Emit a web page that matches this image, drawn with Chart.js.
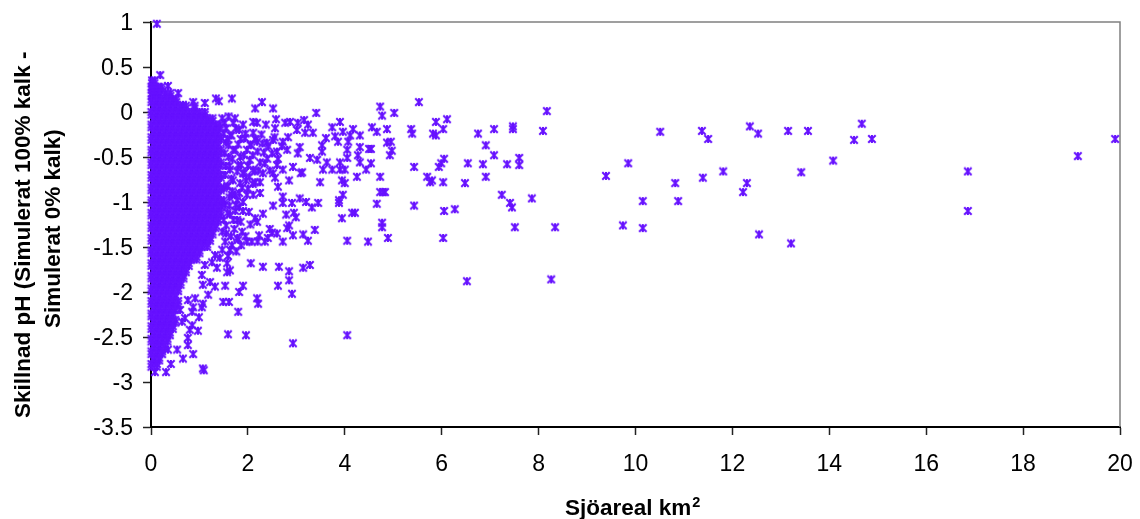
<!DOCTYPE html>
<html><head><meta charset="utf-8">
<script src="https://cdn.jsdelivr.net/npm/chart.js@4/dist/chart.umd.min.js"></script>
<style>html,body{margin:0;padding:0;background:#fff}canvas{display:block}</style>
</head><body><canvas id="c" width="1140" height="519"></canvas>
<script>
const xTitle = 'Sjöareal km';
const xTitleSup = '2';
const yTitle = ['Skillnad pH (Simulerat 100% kalk -', 'Simulerat 0% kalk)'];

// individually readable lakes: area (km2)
const lakeArea = [19.90,19.13,16.86,16.86,14.88,14.67,14.51,14.08,13.42,13.56,13.15,13.21,12.55,12.53,12.36,12.30,12.22,11.81,11.50,11.37,11.39,10.82,10.88,10.51,10.15,10.15,9.85,9.74,9.39,8.34,8.26,8.17,8.09,7.86,7.60,7.60,7.51,7.47,7.47,7.45,7.41,7.35,7.24,7.08,7.08,6.91,6.91,6.85,6.75,6.54,6.52,6.48,6.27,6.11,6.05,6.05,6.03,6.03,6.03,5.99,5.94,5.88,5.88,5.82,5.80,5.76,5.70,5.53,5.43,5.43,5.39,5.37,5.02,4.97,4.95,4.93,4.89,4.87,4.87,4.83,4.79,4.77,4.77,4.77,4.73,4.73,4.73,4.66,4.66,4.56,4.54,4.54,4.50,4.48,4.44,4.31,4.31,4.31,4.27,4.25,4.21,4.17,4.15,4.11,4.07,4.05,4.05,4.05,4.05,4.00,4.00,3.96,3.96,3.94,3.94,3.90,3.90,3.90,3.88,3.88,3.86,3.80,3.74,3.74,3.63,3.61,3.55,3.53,3.53,3.49,3.45,3.43,3.41,3.38,3.34,3.32,3.28,3.28,3.24,3.24,3.20,3.18,3.16,3.14,3.14,3.12,3.09,3.07,3.07,3.03,3.03,3.01,2.99,2.95,2.93,2.93,2.93,2.91,2.91,2.87,2.85,2.85,2.85,2.85,2.83,2.81,2.81,2.79,2.77,2.72,2.72,2.72,2.72,2.72,2.64,2.62,2.62,2.60,2.60,2.58,2.56,2.56,2.52,2.52,2.52,2.52,2.50,2.41,2.39,2.37,2.35,2.31,2.31,2.31,2.29,2.25,2.25,2.23,2.21,2.19,2.19,2.19,2.19,2.15,2.15,2.11,2.11,2.11,2.11,2.06,2.04,2.02,1.98,1.98,1.98,1.96,1.90,1.90,1.90,1.88,1.84,1.84,1.82,1.82,1.80,1.78,1.73,1.69,1.67,1.63,1.63,1.61,1.59,1.57,1.57,1.57,1.53,1.49,1.40,1.34,1.36,1.32,1.11,1.09,1.07,0.97,0.87,0.87,0.80,0.76,0.66,0.66,0.54,0.56,0.41,0.35,0.35,0.31,0.19,0.08,0.12,1.53,1.67,1.80,1.63,1.47,1.86,1.76,1.59,1.42,1.26,1.32,1.11,1.53,1.63,1.55,1.47,1.67,1.75,1.53,1.80,1.96,1.73,1.88,1.60,1.70,1.55,1.64,1.85,1.95,2.05,1.75,1.52,1.60,1.62,1.05,1.22,1.07,0.91,0.76,1.18,1.07,1.05,0.87,0.60,0.99,0.85,0.64,0.85,0.70,0.76,
1.47,1.55,1.66,1.60,1.74,1.82,1.94,2.06,1.86,2.00,2.10,2.20,2.15,2.28,2.33,2.40,2.45,1.50,1.62,1.78,1.90,2.00,2.10,2.22,1.46,1.58,1.70,1.50,1.90,2.05,2.15,1.72,1.95,2.08,2.20,2.35,2.45,2.60,
1.50,1.58,1.70,1.80,1.68,1.52,1.92,1.78,1.66,1.54,1.58,1.68,1.82,1.92,2.03,2.14,2.25,1.50,1.62,1.74,1.85,1.55,1.65,1.78,2.30,2.42,2.50,2.62,2.70,2.55];
// pH difference for the same lakes
const phDiff = [-0.30,-0.49,-0.66,-1.10,-0.30,-0.13,-0.31,-0.54,-0.67,-0.21,-0.21,-1.46,-1.36,-0.24,-0.16,-0.79,-0.89,-0.66,-0.30,-0.21,-0.73,-0.79,-0.99,-0.22,-0.99,-1.29,-0.57,-1.26,-0.71,-1.28,-1.86,0.01,-0.21,-0.96,-0.51,-0.59,-1.28,-0.16,-0.19,-1.06,-1.01,-0.58,-0.92,-0.19,-0.48,-0.37,-0.72,-0.58,-0.24,-0.57,-1.88,-0.79,-1.08,-0.08,-0.52,-1.10,-0.19,-0.78,-1.40,-0.57,-0.61,-0.11,-0.26,-0.24,-0.76,-0.78,-0.72,0.11,-0.61,-1.04,-0.24,-0.19,-0.01,-0.43,-0.33,-0.48,-1.40,-0.19,-0.34,-0.89,-0.89,-0.04,-1.23,-1.28,0.06,-0.72,-0.89,-0.22,-1.02,-0.17,-0.41,-0.57,-0.41,-1.44,-0.64,-0.26,-0.39,-0.56,-0.48,-0.72,-1.12,-0.19,-1.12,-0.26,-0.33,-0.42,-0.51,-1.43,-2.48,-0.64,-0.79,-0.22,-0.92,-0.76,-1.18,-0.11,-0.56,-0.64,-0.98,-1.01,-0.33,-0.27,-0.17,-0.64,-0.56,-0.29,-0.64,-0.37,-0.44,-0.78,-1.01,-0.53,-0.01,-1.31,-0.23,-1.06,-0.51,-1.70,-0.14,-1.43,-1.00,-0.23,-0.09,-1.36,-1.73,-0.67,-0.68,-0.39,-0.96,-0.12,-0.46,-0.20,-1.17,-1.12,-0.61,-1.37,-2.57,-1.01,-2.02,-0.11,-0.76,-1.26,-1.77,-1.87,-0.28,-0.42,-1.29,-1.14,-0.12,-0.33,-0.64,-0.94,-1.01,-1.44,-1.72,-0.83,-1.93,-0.44,-0.59,-0.08,-0.18,-0.73,0.04,-0.31,-0.68,-1.04,-1.34,-1.40,-0.34,-0.14,-0.57,-0.68,-1.13,-1.72,0.11,-0.78,-0.90,-1.37,-2.13,-2.07,-0.12,-0.33,-1.22,0.04,-0.78,-0.11,-0.23,-0.64,-0.92,-1.68,-0.53,-1.11,-0.42,-0.92,-1.44,-2.48,-0.14,-0.68,-1.93,-1.33,-0.50,-0.79,-1.06,-2.00,-2.22,-1.20,-0.07,-0.76,0.15,-0.64,-1.76,-2.11,-2.47,-0.83,-1.68,-1.78,-1.93,-2.11,0.12,0.15,-1.73,-1.94,0.10,-2.87,-2.85,-2.43,0.11,-2.69,-2.42,-2.59,0.08,-2.74,-2.64,0.21,-2.80,-2.64,0.29,-2.89,0.41,-2.89,0.98,-1.44,-1.48,-1.42,-1.53,-1.53,-1.48,-1.55,-1.60,-1.62,-1.67,-1.59,-1.70,-1.03,-1.14,-1.26,-1.33,-0.92,-1.03,-0.70,-0.59,-0.76,-0.92,-0.84,-0.50,-0.42,-0.34,-0.26,-0.30,-0.24,-0.36,-0.18,-0.12,-0.05,-0.60,-1.81,-1.89,-1.92,-2.07,-2.09,-2.03,-2.13,-2.17,-2.17,-2.20,-2.28,-2.22,-2.33,-2.37,-2.29,-2.51,
-0.07,-0.18,-0.26,-0.37,-0.42,-0.20,-0.29,-0.37,-0.59,-0.60,-0.48,-0.44,-0.30,-0.25,-0.45,-0.52,-0.65,-0.85,-0.95,-0.98,-1.00,-0.85,-0.80,-0.65,-1.05,-1.12,-1.20,-1.20,-1.10,-1.25,-1.18,-1.30,-1.38,-1.44,-1.44,-1.44,-1.30,-1.35,
-0.24,-0.30,-0.12,-0.36,-0.52,-0.46,-0.48,-0.66,-0.74,-0.60,-0.82,-0.88,-0.90,-0.68,-0.72,-0.66,-0.56,-0.98,-1.04,-1.10,-1.22,-1.35,-1.38,-1.40,-0.35,-0.38,-0.46,-0.52,-0.38,-0.28];

// the dense mass of small lakes, read band by band: pH of each band
const bandPh = [0.35,0.28,0.21,0.14,0.07,0.00,-0.07,-0.14,-0.21,-0.28,-0.35,-0.42,-0.49,-0.56,-0.63,-0.70,-0.77,-0.84,-0.91,-0.98,-1.05,-1.12,-1.19,-1.26,-1.33,-1.40,-1.47,-1.54,-1.61,-1.68,-1.75,-1.82,-1.89,-1.96,-2.03,-2.10,-2.17,-2.24,-2.31,-2.38,-2.45,-2.52,-2.59,-2.66,-2.73,-2.80];
// the same area classes seen again half a band lower
const bandPhLower = [0.32,0.25,0.18,0.11,0.04,-0.03,-0.10,-0.17,-0.24,-0.31,-0.38,-0.45,-0.52,-0.59,-0.66,-0.73,-0.80,-0.87,-0.94,-1.01,-1.08,-1.15,-1.22,-1.29,-1.36,-1.43,-1.50,-1.57,-1.64,-1.71,-1.78,-1.85,-1.92,-1.99,-2.06,-2.13,-2.20,-2.27,-2.34,-2.41,-2.48,-2.55,-2.62,-2.69,-2.76,-2.83];
// areas of the lakes in each band
const bandArea = [
[.02,.07],
[.01,.06,.14,.22],
[.02,.10,.18,.30,.40],
[.01,.12,.23,.34,.45,.52],
[.06,.17,.28,.39,.50,.61,.72,.90],
[.01,.12,.23,.34,.45,.56,.67,.78,.89,1.00,1.11],
[.06,.17,.28,.39,.50,.61,.72,.83,.94,1.05,1.16,1.27],
[.01,.12,.23,.34,.45,.56,.67,.78,.89,1.00,1.11,1.22,1.33,1.42],
[.06,.17,.28,.39,.50,.61,.72,.83,.94,1.05,1.16,1.27,1.38],
[.01,.12,.23,.34,.45,.56,.67,.78,.89,1.00,1.11,1.22,1.33,1.44],
[.06,.17,.28,.39,.50,.61,.72,.83,.94,1.05,1.16,1.27,1.38],
[.01,.12,.23,.34,.45,.56,.67,.78,.89,1.00,1.11,1.22,1.33,1.44],
[.06,.17,.28,.39,.50,.61,.72,.83,.94,1.05,1.16,1.27,1.38],
[.01,.12,.23,.34,.45,.56,.67,.78,.89,1.00,1.11,1.22,1.33,1.44],
[.06,.17,.28,.39,.50,.61,.72,.83,.94,1.05,1.16,1.27,1.38],
[.01,.12,.23,.34,.45,.56,.67,.78,.89,1.00,1.11,1.22,1.33,1.44],
[.06,.17,.28,.39,.50,.61,.72,.83,.94,1.05,1.16,1.27,1.38],
[.01,.12,.23,.34,.45,.56,.67,.78,.89,1.00,1.11,1.22,1.33,1.44],
[.06,.17,.28,.39,.50,.61,.72,.83,.94,1.05,1.16,1.27,1.38],
[.01,.12,.23,.34,.45,.56,.67,.78,.89,1.00,1.11,1.22,1.33,1.44],
[.06,.17,.28,.39,.50,.61,.72,.83,.94,1.05,1.16,1.27,1.38],
[.01,.12,.23,.34,.45,.56,.67,.78,.89,1.00,1.11,1.22,1.33,1.44],
[.06,.17,.28,.39,.50,.61,.72,.83,.94,1.05,1.16,1.27,1.38],
[.01,.12,.23,.34,.45,.56,.67,.78,.89,1.00,1.11,1.22,1.33],
[.06,.17,.28,.39,.50,.61,.72,.83,.94,1.05,1.16,1.27],
[.01,.12,.23,.34,.45,.56,.67,.78,.89,1.00,1.11,1.22],
[.06,.17,.28,.39,.50,.61,.72,.83,.94,1.05,1.16],
[.01,.12,.23,.34,.45,.56,.67,.78,.89,1.00],
[.06,.17,.28,.39,.50,.61,.72,.83,.94],
[.01,.12,.23,.34,.45,.56,.67,.78],
[.06,.17,.28,.39,.50,.61,.72],
[.01,.12,.23,.34,.45,.56,.67],
[.06,.17,.28,.39,.50,.61],
[.01,.12,.23,.34,.45,.56],
[.06,.17,.28,.39,.50],
[.01,.12,.23,.34,.45,.56],
[.06,.17,.28,.39,.50],
[.01,.12,.23,.34,.45],
[.06,.17,.28,.39,.50],
[.01,.12,.23,.34,.45],
[.06,.17,.28,.39],
[.01,.12,.23,.34],
[.06,.17,.28],
[.01,.12,.23],
[.06,.17],
[.01,.12]
];

const xTicksMax = 20, yMin = -3.5, yMax = 1;
const markColor = '#6611ff';

const star = document.createElement('canvas');
star.width = 10; star.height = 10;
(function(){
  const g = star.getContext('2d');
  g.strokeStyle = markColor; g.lineWidth = 2; g.lineCap = 'butt';
  g.beginPath();
  g.moveTo(1.3,1.3); g.lineTo(8.7,8.7);
  g.moveTo(8.7,1.3); g.lineTo(1.3,8.7);
  g.moveTo(5,1); g.lineTo(5,9);
  g.stroke();
})();

const points = lakeArea.map((x,i)=>({x, y:phDiff[i]}));
bandArea.forEach((xs,i)=>xs.forEach(x=>{
  points.push({x, y:bandPh[i]});
  points.push({x, y:bandPhLower[i]});
}));

const family = '"Liberation Sans", Arial, sans-serif';
const frame = {
  id:'frame',
  beforeDatasetsDraw(chart){
    const a = chart.chartArea, c = chart.ctx;
    c.save();
    c.strokeStyle = '#808080'; c.lineWidth = 1.5;
    c.beginPath();
    c.moveTo(a.left, a.top); c.lineTo(a.right, a.top); c.lineTo(a.right, a.bottom);
    c.stroke();
    c.restore();
  },
  afterDraw(chart){
    const c = chart.ctx;
    c.save();
    c.fillStyle = '#000';
    c.textBaseline = 'alphabetic'; c.textAlign = 'left';
    c.font = 'bold 22.5px ' + family;
    c.fillText(xTitle, 565, 515);
    const w = c.measureText(xTitle).width;
    c.font = 'bold 14.5px ' + family;
    c.fillText(xTitleSup, 565 + w + 1, 507);
    c.font = 'bold 22.5px ' + family;
    c.translate(30, 418);
    c.rotate(-Math.PI/2);
    c.fillText(yTitle[0], 0, 0);
    c.fillText(yTitle[1], 90, 29.5);
    c.restore();
  }
};
const tickFont = {family, size:23};

new Chart(document.getElementById('c'), {
  type:'scatter',
  data:{datasets:[{data:points, pointStyle:star, pointRadius:4, showLine:false, clip:false,
    borderColor:markColor, backgroundColor:markColor}]},
  plugins:[frame],
  options:{
    responsive:false, animation:false,
    layout:{padding:{top:22,right:20,left:0,bottom:0}},
    plugins:{legend:{display:false}, tooltip:{enabled:false}},
    scales:{
      x:{type:'linear', min:0, max:xTicksMax,
        afterFit(s){s.height=92;s.paddingLeft=0;s.paddingRight=0;},
        grid:{drawOnChartArea:false, drawTicks:true, tickLength:8, tickColor:'#222', tickWidth:1.5},
        border:{color:'#000', width:2},
        ticks:{stepSize:2, color:'#000', font:tickFont, padding:16, maxRotation:0, autoSkip:false, callback:v=>String(v)},
        title:{display:false}
      },
      y:{type:'linear', min:yMin, max:yMax,
        afterFit(s){s.width=151;s.paddingTop=0;s.paddingBottom=0;},
        grid:{drawOnChartArea:false, drawTicks:true, tickLength:8, tickColor:'#222', tickWidth:1.5},
        border:{color:'#000', width:2},
        ticks:{stepSize:0.5, color:'#000', font:tickFont, padding:10, labelOffset:2, autoSkip:false, callback:v=>String(v)},
        title:{display:false}
      }
    }
  }
});
</script></body></html>
